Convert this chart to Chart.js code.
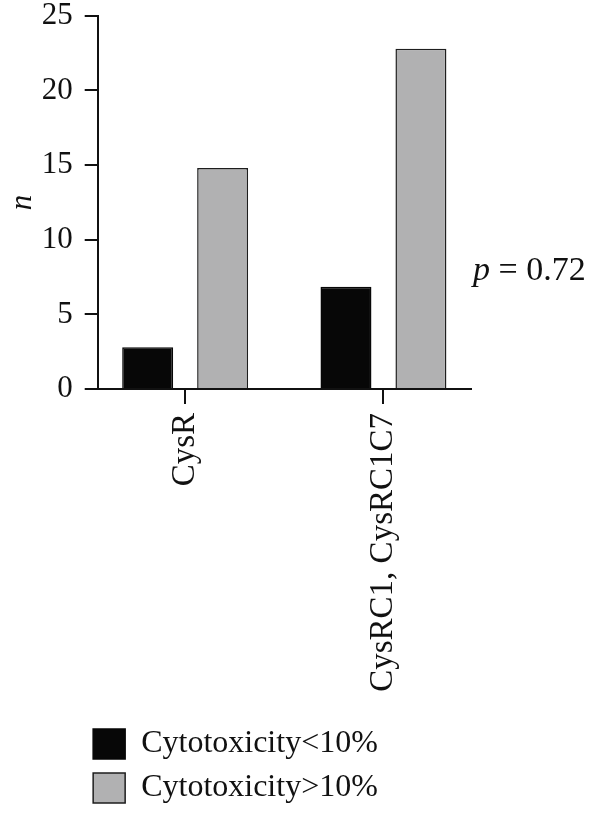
<!DOCTYPE html>
<html>
<head>
<meta charset="utf-8">
<script src="https://cdn.jsdelivr.net/npm/chart.js@4"></script>
<style>
  html, body { margin: 0; padding: 0; background: #fff; }
  #wrap { width: 591px; height: 814px; position: relative; }
</style>
</head>
<body>
<div id="wrap"><canvas id="barChart"></canvas></div>
<script>
const categories = ['CysR', 'CysRC1, CysRC1C7'];
const seriesNames = ['Cytotoxicity<10%', 'Cytotoxicity>10%'];
const below10 = [2.8, 6.85];
const above10 = [14.8, 22.8];
const yTicks = [0, 5, 10, 15, 20, 25];
const pValue = '0.72';

const serif = "'Liberation Serif', 'DejaVu Serif', serif";

// p value written to the right of the plot
const pLabel = {
  id: 'pLabel',
  afterDraw(chart) {
    const ctx = chart.ctx;
    const y = chart.scales.y.getPixelForValue(7.9);
    const x = chart.chartArea.right + 2;
    ctx.save();
    ctx.fillStyle = '#111';
    ctx.textBaseline = 'middle';
    ctx.font = 'italic 34px ' + serif;
    ctx.fillText('p', x, y);
    const w = ctx.measureText('p').width;
    ctx.font = '34px ' + serif;
    ctx.fillText(' = ' + pValue, x + w, y);
    ctx.restore();
  }
};

const toPoints = arr => arr.map((v, i) => ({ x: i + 1, y: v }));

new Chart(document.getElementById('barChart'), {
  type: 'bar',
  data: {
    datasets: [
      {
        label: seriesNames[0],
        data: toPoints(below10),
        backgroundColor: '#070707',
        borderColor: '#070707',
        borderWidth: 1.5,
        categoryPercentage: 0.756,
        barPercentage: 0.68
      },
      {
        label: seriesNames[1],
        data: toPoints(above10),
        backgroundColor: '#b1b1b2',
        borderColor: '#1e1e1e',
        borderWidth: 1.5,
        categoryPercentage: 0.756,
        barPercentage: 0.68
      }
    ]
  },
  options: {
    responsive: true,
    maintainAspectRatio: false,
    animation: false,
    layout: { padding: { top: 0, right: 120, left: 0, bottom: 0 } },
    plugins: {
      tooltip: { enabled: false },
      legend: {
        position: 'bottom',
        align: 'center',
        labels: {
          color: '#111',
          font: { family: serif, size: 32 },
          boxWidth: 32,
          boxHeight: 30,
          padding: 12
        }
      }
    },
    scales: {
      x: {
        type: 'linear',
        offset: false,
        min: 0.559,
        max: 2.4415,
        afterBuildTicks: s => { s.ticks = categories.map((c, i) => ({ value: i + 1 })); },
        afterFit: s => { s.height = 327; },
        border: { display: true, color: '#111', width: 2 },
        grid: { offset: false, drawOnChartArea: false, drawTicks: true, tickLength: 15, color: '#111', lineWidth: 2 },
        ticks: {
          autoSkip: false,
          maxRotation: 90,
          minRotation: 90,
          padding: 9,
          color: '#111',
          font: { family: serif, size: 33, lineHeight: 1 },
          callback: v => categories[v - 1]
        }
      },
      y: {
        min: 0,
        max: 25,
        afterBuildTicks: s => { s.ticks = yTicks.map(v => ({ value: v })); },
        afterFit: s => { s.width = 97.7; },
        border: { display: true, color: '#111', width: 2 },
        grid: { drawOnChartArea: false, drawTicks: true, tickLength: 13, color: '#111', lineWidth: 2 },
        ticks: {
          padding: 12,
          color: '#111',
          font: { family: serif, size: 31, lineHeight: 0.25 }
        },
        title: {
          display: true,
          text: 'n',
          color: '#111',
          padding: { top: 7, bottom: 0 },
          font: { family: serif, size: 31, style: 'italic', lineHeight: 1 }
        }
      }
    }
  },
  plugins: [pLabel]
});
</script>
</body>
</html>
